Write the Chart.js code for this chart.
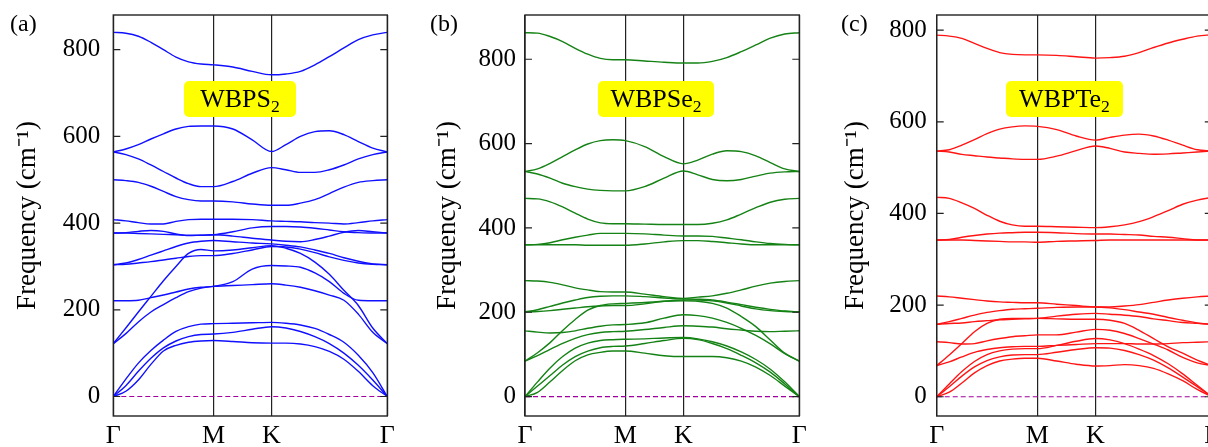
<!DOCTYPE html>
<html>
<head>
<meta charset="utf-8">
<script src="https://cdn.jsdelivr.net/npm/chart.js@4.4.1/dist/chart.umd.min.js"></script>
<style>
  html, body { margin: 0; padding: 0; background: #fff; overflow: hidden; }
  body { width: 1208px; height: 447px; position: relative; font-family: "Liberation Serif", serif; }
  canvas { position: absolute; top: 0; }
  .tag { position: absolute; top: 11px; font-size: 24px; line-height: 1; color: #000; }
  .name { position: absolute; top: 81px; height: 36px; line-height: 36px; background: #ffff00;
          border-radius: 5px; font-size: 26px; text-align: center; color: #000; }
  .name sub { font-size: 0.68em; vertical-align: -0.28em; line-height: 0; }
</style>
</head>
<body>
<canvas id="panelA" width="400" height="447" style="left:0px"></canvas>
<canvas id="panelB" width="392" height="447" style="left:420px"></canvas>
<canvas id="panelC" width="397" height="447" style="left:828px"></canvas>

<div class="tag" style="left:10px">(a)</div>
<div class="tag" style="left:430px">(b)</div>
<div class="tag" style="left:841px">(c)</div>

<div class="name" style="left:184px;width:112px">WBPS<sub>2</sub></div>
<div class="name" style="left:598px;width:116px">WBPSe<sub>2</sub></div>
<div class="name" style="left:1006px;width:117px">WBPTe<sub>2</sub></div>

<script>
// path Γ-M-K-Γ, distances with |ΓM| = 1
const kPath = [0, 0.125, 0.25, 0.375, 0.5, 0.625, 0.75, 0.875, 1,
               1.192, 1.385, 1.577,
               1.721, 1.866, 2.01, 2.154, 2.299, 2.443, 2.587, 2.732];
const kTicks = [0, 1, 1.577, 2.732];
const kLabels = ["Γ", "M", "K", "Γ"];
const yTicks = [0, 200, 400, 600, 800];

// phonon branches (cm^-1), one row per branch, sampled on kPath
const bandsWBPS2 = [
  [840, 838, 831, 817, 800, 783, 772, 767, 765, 760, 750, 742, 744, 750, 765, 784, 804, 823, 834, 840],
  [564, 571, 581, 594, 606, 617, 623, 624, 624, 617, 592, 565, 581, 600, 611, 613, 604, 588, 573, 564],
  [564, 558, 548, 534, 519, 504, 491, 484, 484, 496, 515, 528, 523, 517, 517, 523, 534, 548, 558, 564],
  [500, 498, 494, 485, 473, 461, 454, 451, 451, 449, 444, 441, 441, 446, 454, 468, 483, 494, 498, 500],
  [408, 405, 401, 398, 398, 404, 408, 409, 409, 409, 408, 405, 404, 403, 401, 400, 398, 401, 405, 408],
  [377, 378, 381, 383, 381, 375, 371, 372, 373, 380, 389, 392, 392, 391, 388, 384, 380, 378, 377, 377],
  [377, 377, 376, 375, 374, 373, 372, 372, 373, 370, 365, 361, 358, 357, 362, 370, 379, 383, 380, 377],
  [304, 308, 316, 326, 336, 346, 354, 358, 360, 357, 354, 352, 349, 345, 338, 330, 320, 312, 306, 304],
  [304, 305, 308, 311, 315, 319, 323, 325, 325, 330, 338, 346, 345, 340, 332, 322, 314, 308, 305, 304],
  [122, 158, 195, 231, 267, 300, 330, 339, 336, 338, 343, 348, 342, 330, 310, 282, 245, 210, 158, 122],
  [221, 221, 222, 228, 234, 241, 248, 252, 254, 265, 294, 302, 301, 298, 285, 265, 238, 222, 221, 221],
  [122, 145, 172, 195, 212, 228, 242, 250, 254, 256, 258, 260, 257, 252, 244, 234, 222, 190, 148, 122],
  [0, 40, 77, 106, 130, 150, 161, 167, 168, 169, 170, 171, 169, 165, 157, 143, 125, 95, 55, 0],
  [0, 25, 58, 88, 112, 128, 138, 143, 144, 148, 155, 161, 158, 150, 138, 122, 100, 72, 38, 0],
  [0, 12, 38, 74, 105, 118, 125, 128, 129, 127, 124, 123, 123, 121, 115, 104, 86, 58, 25, 0]
];

const bandsWBPSe2 = [
  [863, 862, 854, 842, 826, 812, 802, 799, 799, 796, 793, 791, 791, 795, 804, 818, 834, 850, 860, 863],
  [534, 540, 553, 569, 585, 599, 607, 609, 607, 593, 569, 552, 561, 575, 583, 581, 571, 555, 540, 534],
  [534, 528, 518, 506, 498, 492, 489, 488, 488, 498, 518, 535, 526, 515, 512, 515, 523, 530, 533, 534],
  [470, 469, 462, 450, 435, 421, 412, 410, 410, 409, 408, 408, 408, 411, 419, 433, 448, 461, 468, 470],
  [360, 361, 365, 372, 378, 383, 387, 387, 387, 386, 383, 381, 381, 380, 376, 372, 367, 363, 361, 360],
  [360, 360, 360, 360, 360, 359, 359, 359, 359, 362, 367, 370, 370, 368, 365, 362, 360, 360, 360, 360],
  [275, 274, 271, 265, 258, 253, 249, 248, 248, 243, 237, 233, 236, 239, 245, 253, 262, 269, 273, 275],
  [201, 206, 214, 222, 229, 235, 238, 239, 239, 237, 234, 232, 231, 229, 224, 218, 212, 207, 203, 201],
  [201, 202, 204, 207, 210, 213, 215, 216, 216, 220, 226, 229, 229, 227, 222, 215, 208, 204, 202, 201],
  [84, 104, 128, 157, 183, 205, 216, 220, 221, 223, 226, 227, 226, 221, 210, 190, 166, 134, 103, 84],
  [156, 153, 151, 152, 156, 162, 167, 170, 171, 175, 186, 194, 192, 186, 176, 162, 145, 125, 102, 84],
  [84, 97, 112, 126, 138, 147, 152, 154, 155, 159, 164, 168, 167, 165, 161, 158, 155, 154, 155, 156],
  [0, 35, 68, 95, 115, 127, 133, 135, 136, 137, 139, 140, 137, 130, 120, 106, 88, 65, 35, 0],
  [0, 25, 50, 75, 95, 108, 116, 119, 120, 126, 133, 138, 135, 126, 114, 98, 80, 58, 30, 0],
  [0, 10, 35, 62, 85, 99, 105, 108, 108, 103, 97, 95, 95, 95, 92, 84, 70, 50, 25, 0]
];

const bandsWBPTe2 = [
  [789, 787, 782, 771, 760, 751, 747, 746, 746, 745, 742, 739, 740, 743, 751, 762, 772, 780, 787, 790],
  [536, 539, 549, 561, 574, 584, 589, 591, 590, 583, 569, 560, 566, 571, 573, 569, 560, 549, 539, 536],
  [536, 534, 529, 526, 523, 521, 519, 518, 518, 525, 537, 547, 542, 534, 531, 529, 530, 532, 534, 536],
  [435, 433, 423, 411, 396, 383, 375, 372, 372, 371, 370, 369, 371, 375, 382, 393, 406, 420, 429, 435],
  [342, 343, 348, 352, 355, 357, 358, 359, 359, 358, 356, 355, 355, 354, 353, 350, 348, 345, 342, 342],
  [342, 342, 342, 341, 340, 339, 338, 338, 337, 339, 340, 341, 342, 342, 342, 342, 342, 342, 342, 342],
  [220, 218, 215, 212, 209, 207, 206, 205, 205, 202, 199, 196, 196, 198, 201, 206, 211, 215, 218, 220],
  [158, 164, 171, 178, 184, 188, 191, 192, 193, 195, 196, 196, 194, 190, 185, 180, 173, 167, 161, 158],
  [158, 160, 161, 164, 166, 168, 169, 170, 171, 176, 180, 182, 180, 178, 175, 170, 166, 162, 160, 158],
  [68, 91, 116, 142, 160, 169, 171, 171, 171, 170, 169, 169, 167, 160, 145, 127, 109, 95, 80, 68],
  [120, 118, 115, 116, 122, 127, 131, 133, 135, 135, 141, 147, 145, 138, 127, 115, 102, 86, 74, 68],
  [68, 76, 87, 97, 103, 107, 109, 110, 110, 112, 114, 116, 116, 116, 115, 115, 116, 118, 119, 120],
  [0, 28, 55, 77, 92, 100, 104, 105, 105, 112, 121, 127, 124, 116, 104, 90, 72, 50, 25, 0],
  [0, 22, 45, 65, 79, 87, 91, 92, 92, 97, 103, 107, 106, 101, 92, 80, 63, 43, 22, 0],
  [0, 10, 30, 52, 68, 78, 82, 84, 84, 78, 71, 67, 68, 70, 68, 62, 50, 35, 16, 0]
];

const serif = '"Liberation Serif", "Times New Roman", serif';

// box around the plot plus inward tick marks on both sides
const framePlugin = {
  id: "frame",
  afterDatasetsDraw(chart) {
    const { ctx, chartArea: a, scales } = chart;
    ctx.save();
    ctx.strokeStyle = "#222";
    ctx.lineWidth = 1.4;
    ctx.strokeRect(a.left, a.top, a.right - a.left, a.bottom - a.top);
    ctx.lineWidth = 1.2;
    yTicks.forEach(v => {
      const py = scales.y.getPixelForValue(v);
      ctx.beginPath();
      ctx.moveTo(a.left, py); ctx.lineTo(a.left + 7, py);
      ctx.moveTo(a.right, py); ctx.lineTo(a.right - 7, py);
      ctx.stroke();
    });
    ctx.restore();
  }
};

// keep the plot box where the layout puts it, no room reserved for edge labels
function noEdgePadding(s) {
  s.paddingTop = 0; s.paddingBottom = 0; s.paddingLeft = 0; s.paddingRight = 0;
}

function makePanel(id, bands, color, yMin, yMax, axisW, tickPad, padRight) {
  const kEnd = kPath[kPath.length - 1];
  const datasets = bands.map(b => ({
    data: b.map((v, i) => ({ x: kPath[i], y: v })),
    borderColor: color,
    borderWidth: 1.4,
    pointRadius: 0,
    cubicInterpolationMode: "monotone",
    fill: false
  }));
  // zero-frequency reference
  datasets.push({
    data: [{ x: 0, y: 0 }, { x: kEnd, y: 0 }],
    borderColor: "#a000a0",
    borderWidth: 1.2,
    borderDash: [5, 3],
    pointRadius: 0
  });

  new Chart(document.getElementById(id).getContext("2d"), {
    type: "line",
    data: { datasets },
    options: {
      responsive: false,
      animation: false,
      layout: { padding: { top: 15, right: padRight, left: 0, bottom: 0 } },
      plugins: { legend: { display: false }, tooltip: { enabled: false } },
      scales: {
        x: {
          type: "linear",
          min: 0,
          max: kEnd,
          afterBuildTicks: s => { s.ticks = kTicks.map(v => ({ value: v })); },
          afterFit: s => { s.height = 31; noEdgePadding(s); },
          grid: { color: "#222", lineWidth: 1.2, drawTicks: false },
          border: { display: false },
          ticks: {
            autoSkip: false,
            maxRotation: 0,
            padding: 5,
            color: "#000",
            font: { family: serif, size: 26 },
            callback: (v, i) => kLabels[i]
          }
        },
        y: {
          min: yMin,
          max: yMax,
          afterBuildTicks: s => { s.ticks = yTicks.map(v => ({ value: v })); },
          afterFit: s => { s.width = axisW; noEdgePadding(s); },
          grid: { display: false, drawTicks: false },
          border: { display: false },
          ticks: { padding: tickPad, color: "#000", font: { family: serif, size: 25 } },
          title: {
            display: true,
            text: "Frequency (cm⁻¹)",
            color: "#000",
            font: { family: serif, size: 27 },
            padding: { top: 12 }
          }
        }
      }
    },
    plugins: [framePlugin]
  });
}

makePanel("panelA", bandsWBPS2, "#1010ff", -45, 880, 113.3, 13, 12.7);
makePanel("panelB", bandsWBPSe2, "#148214", -46, 905, 105, 9, 12.7);
makePanel("panelC", bandsWBPTe2, "#ff1414", -42, 833, 108.7, 10, 13.2);
</script>
</body>
</html>
